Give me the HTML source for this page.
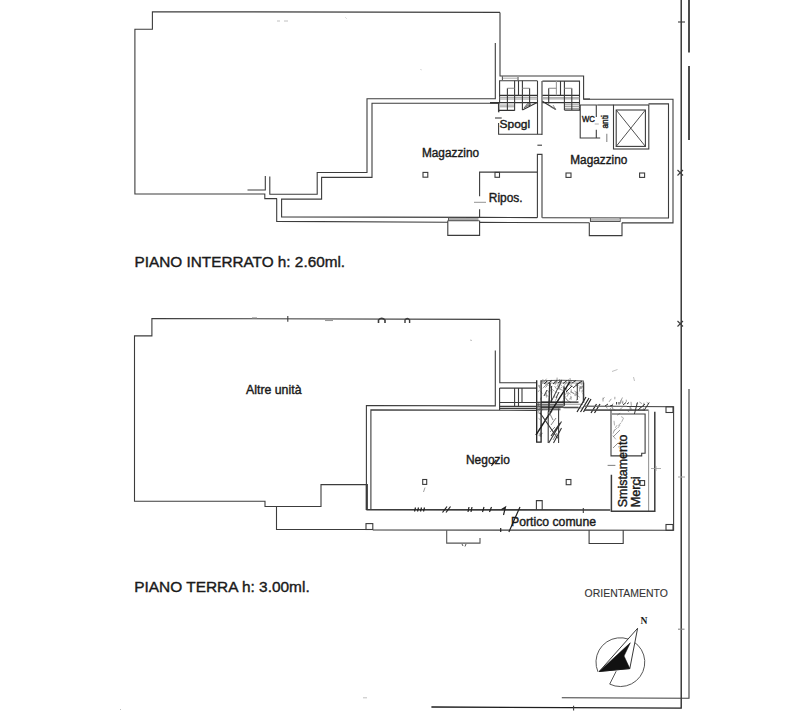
<!DOCTYPE html>
<html><head><meta charset="utf-8"><title>Planimetria</title>
<style>
html,body{margin:0;padding:0;background:#fff;width:810px;height:720px;overflow:hidden}
svg{display:block;position:absolute;left:0;top:0}
text{font-family:"Liberation Sans",sans-serif;fill:#1a1a1a}
</style></head><body>
<svg width="810" height="720" viewBox="0 0 810 720">
<g fill="none" stroke="#3c3c3c" stroke-width="1.1" stroke-linejoin="miter" stroke-linecap="butt">
<!-- ===== UPPER PLAN (PIANO INTERRATO) ===== -->
<!-- big left rect -->
<path d="M500,12.4 L152.4,11.7 L152.4,29.2 L134.9,29.2 L134.9,194 L264.8,194 L264.8,198.6 L277,198.6"/>
<path d="M247.5,190 L265.3,190 L265.3,176"/>
<!-- line C outer -->
<path d="M269.8,176.4 L269.8,194.2 L317.2,194.2 L317.2,172.5 L367,172.5 L367,98.8 L495.3,98.8 L495.3,43"/>
<!-- line D inner -->
<path d="M499,103.3 L372,103.3 L372,177.4 L321.6,177.4 L321.6,199.1 L281.6,199.1 L281.6,216.9 L479.6,217.4 L537.2,217.6"/>
<path d="M542.2,217.8 L668.5,218 L668.5,103.9 L648.5,103.9"/>
<!-- line E outer bottom -->
<path d="M276.7,198.6 L276.7,221.4 L447.8,222.2"/>
<path d="M479.6,222.4 L589.3,222.8"/>
<path d="M622,222.9 L673,222.9 L673,99.3 L583.6,99.3 L583.6,76 L500,76 L500,12.5"/>
<path d="M583.8,99 L590,99"/>
<!-- windows -->
<path d="M447.8,220.6 L447.8,235.4 L479.6,235.4 L479.6,220.6"/>
<path d="M448.6,217.4 L448.6,220.6 L478.8,220.6" stroke="#555"/>
<rect x="449" y="218" width="29.5" height="2.2" fill="#aaa" stroke="none"/>
<path d="M589.3,222.8 L589.3,235.6 L622,235.6 L622,222.8"/>
<path d="M590.5,218 L590.5,221.4 L620.1,221.4 L620.1,218" stroke="#555"/>
<rect x="591" y="218.6" width="28.8" height="2.2" fill="#bbb" stroke="none"/>
<!-- Ripos -->
<path d="M479.6,196.3 L479.6,172.1 L537,172.1"/>
<path d="M479.6,209.3 L479.6,217.9"/>
<rect x="495" y="172.4" width="4.5" height="4.9"/>
<path d="M474,202.3 L486,202.3" stroke="#777" stroke-width="0.8"/>
<!-- middle wall -->
<path d="M537.4,217.8 L537.4,154.4 L542,154.4 L542,217.8"/>
<path d="M537.4,145.2 L542,145.2"/>
<path d="M537.5,81 L537.5,134.2"/>
<path d="M542,81 L542,135"/>
<!-- Spogl box -->
<path d="M498.6,123 L498.6,134.2 L542,134.2"/>
<path d="M495,118 L501.7,118"/>
<!-- stairs outer -->
<path d="M499.6,102.6 L499.6,80.7 L537.5,80.7"/>
<path d="M498.7,102.6 L498.7,112.3" stroke-width="1.5"/>
<path d="M542.4,81.1 L579.5,81.1 L579.5,110.7"/>
<path d="M490,103 L499.3,103"/>
<path d="M502.4,76.2 L502.4,80.1 M518,77 L518,80.1" stroke="#555"/>
<path d="M503,78.2 L517.5,78.2" stroke="#999" stroke-width="0.8"/>
<!-- left stair internals -->
<path d="M499.6,95.4 L537.4,95.4 M490,102.6 L537.4,102.6 M498.5,110.4 L514.6,110.4" stroke="#333" stroke-width="1.2"/>
<path d="M499.6,97.3 L537.4,97.3 M499.6,99 L537.4,99 M499.6,105.1 L514.6,105.1 M499.6,106.8 L514.6,106.8" stroke="#9a9a9a" stroke-width="1"/>
<path d="M507.4,88.2 L507.4,110.7 M514.6,80.7 L514.6,110.7 M518.5,80.7 L518.5,95.4 M522.4,80.7 L522.4,110.1 M529.6,88.2 L529.6,106.2" stroke="#3a3a3a"/>
<path d="M507.4,88.2 L514.6,88.2 M522.4,88.2 L529.6,88.2" stroke="#888"/>
<path d="M522.4,110.1 L537.1,102.6" stroke="#333"/>
<path d="M524,108 L531,104 L527.5,103.5 Z" fill="#aaa" stroke="#555" stroke-width="0.7"/>
<!-- right stair internals -->
<path d="M542.4,95.3 L579.5,95.3 M542.4,102.7 L579.5,102.7 M564.4,110.1 L579.5,110.1" stroke="#333" stroke-width="1.2"/>
<path d="M542.4,97.7 L579.5,97.7 M542.4,98.9 L579.5,98.9 M564.4,104.8 L579.5,104.8 M564.4,106.6 L579.5,106.6 M564.4,108.4 L579.5,108.4" stroke="#9a9a9a" stroke-width="1"/>
<path d="M548.7,88.2 L548.7,103.6 M560.5,81.1 L560.5,95.3 M564.4,81.1 L564.4,110.1 M571.8,88.2 L571.8,110.1" stroke="#3a3a3a"/>
<path d="M556.4,81.1 L556.4,95.3" stroke="#999"/>
<path d="M548.7,88.2 L556.4,88.2 M564.4,88.2 L571.8,88.2" stroke="#888"/>
<path d="M542.4,101.3 L555.8,109.6" stroke="#333" stroke-width="1.2"/>
<path d="M550,106.5 L555.8,109.6 L553,105" stroke="#777" stroke-width="0.8"/>
<!-- WC -->
<path d="M596.3,117 L596.3,105 L580.2,105 L580.2,138 L600.2,138"/>
<path d="M596.3,129.8 L596.3,138"/>
<path d="M597.2,105 L613.5,105"/>
<path d="M606.8,133.7 L606.8,142" stroke="#888"/>
<path d="M594.7,124 L598.8,124" stroke="#999" stroke-width="0.8"/>
<!-- elevator -->
<rect x="613.5" y="105" width="35.3" height="44"/>
<rect x="616.2" y="110" width="29.2" height="36.4"/>
<path d="M616.2,110 L645.4,146.4 M645.4,110 L616.2,146.4" stroke-width="0.9"/>
<!-- pillars squares -->
<rect x="423" y="172.4" width="4.8" height="4.8"/>
<rect x="566" y="173" width="5" height="4.4"/>
<rect x="639.6" y="173" width="5" height="4.4"/>

<!-- faint marks -->
<path d="M277,21 L280,21 M284,21 L288,21 M345.5,17.5 L346.5,18.5 M420.5,69.5 L421.5,69.8 M470,340 L472,340.5 M612,371.5 L617.5,369.5 M633.5,377 L634.5,381 M120,709 L121,710 M363,697.8 L367,697.8" stroke="#b0b0b0" stroke-width="0.8"/>
<!-- ===== RIGHT FRAME ===== -->
<path d="M681.2,0 L681.2,708.2 L431.4,707" stroke="#1e1e1e" stroke-width="1.3"/>
<path d="M689,0 L689,52.5 M689,66 L689,140" stroke="#222" stroke-width="1.6"/>
<path d="M689,389 L689,698.2 L561.8,697.8"/>
<path d="M678,22 L685,22"/>
<path d="M677.5,170 L683,175.5 M677.5,175.5 L683,170"/>
<path d="M677.5,321 L683,326.5 M677.5,326.5 L683,321"/>
<path d="M573.6,705.7 L573.6,710.6"/>
<path d="M678,629.2 L684.5,629.2" stroke="#888"/>

<!-- ===== LOWER PLAN (PIANO TERRA) ===== -->
<path d="M499.8,319.4 L151.9,318.5 L151.9,335.9 L134.5,335.9 L134.5,501.2 L265,501.2 L265,506.5 L321,506.5 L321,484.6 L366.3,484.6"/>
<path d="M499.8,319.4 L499.8,382.8 L536.3,382.8"/>
<path d="M495.3,350.6 L495.3,405.9 L366.4,405.5 L366.4,510"/>
<path d="M366.4,484 L366.4,510"/>
<path d="M370.9,510 L370.9,409.9 L536,410.4"/>
<path d="M366.4,509.8 L610.3,510" stroke-width="1.6"/>
<path d="M276.5,506 L276.5,529.5 L366,529.5"/>
<path d="M372.8,530 L673.6,530.3 L673.6,406.8 L584,406.2"/>
<rect x="366" y="523.6" width="6.8" height="5.9"/>
<!-- top marks -->
<path d="M287.8,316 L287.8,321.7"/>
<path d="M378.5,323 L378.5,320 Q381.7,316.5 385,320 L385,323" stroke-width="1.6"/>
<path d="M405,323 L405,320 Q407.3,317 409.6,320 L409.6,323" stroke-width="1.4"/>
<path d="M252,318 L257,318" stroke="#888"/>
<path d="M325,320.5 L333,320.5" stroke="#999"/>
<!-- upper stair box lower plan -->
<path d="M499.6,388.1 L536.3,388.1 M499.6,388.1 L499.6,410"/>
<path d="M514.6,388.1 L514.6,406.4 M518.5,388.1 L518.5,406.4 M522,388.1 L522,402.5" />
<path d="M499.6,402.5 L536.3,402.5 M499.6,406.4 L536.3,406.4 M499.6,408.4 L536.3,408.4"/>
<!-- hatched stair column -->
<path d="M555.3,384.9l-0.6,-3.7M579.3,386.1l2.8,1.6M575.9,384.4l2.0,3.2M544.0,386.2l1.9,1.4M554.6,397.5l0.1,-2.3M571.2,392.7l-0.0,-3.4M579.9,388.9l1.9,-3.2M563.5,398.6l2.7,-2.3M548.8,388.5l3.6,-2.3M565.5,398.6l3.2,3.0M544.8,383.8l3.8,1.6M568.5,400.9l2.5,1.8M580.6,388.8l-0.0,-2.4M552.2,389.4l2.2,1.7M547.6,390.2l2.4,4.0M581.3,384.9l-0.4,-4.5M549.5,387.4l0.1,-4.9M570.3,391.8l4.1,1.7M558.1,389.6l2.0,-4.5M560.1,384.1l1.7,1.6M556.9,382.5l0.2,-4.9M566.7,391.0l-0.0,-3.5M545.5,383.9l2.0,-3.0M550.4,400.1l1.6,2.4M568.4,383.7l0.0,-4.3M563.8,396.8l2.4,-3.7M575.6,396.1l2.4,-4.3M574.4,391.0l4.1,2.8M581.2,388.9l1.7,-3.0M582.4,393.6l1.9,1.3M569.1,399.3l2.6,-2.1M568.1,383.6l3.8,3.0M571.7,385.2l1.4,2.0M575.9,400.6l1.5,-1.4M574.8,395.8l1.8,-4.1M550.7,386.8l-0.3,-3.6M576.2,383.2l2.2,2.4M579.6,391.5l0.0,-4.3M567.0,396.7l1.6,-3.3M555.4,391.8l2.0,0.9M549.8,382.8l1.3,-3.0M567.1,391.6l3.5,2.7M562.8,386.7l2.5,3.9M550.3,390.5l2.3,1.5M545.0,394.7l3.5,1.7M557.0,386.8l1.4,-2.9M562.0,400.8l2.6,1.9M559.3,388.8l-0.2,-3.3M542.7,388.3l3.5,-3.5M546.3,387.0l1.6,-4.1M576.8,394.8l2.8,2.5M570.7,383.7l1.1,-2.6M542.7,383.7l0.2,-4.6M560.6,388.4l1.4,-1.6M571.1,399.8l-0.3,-3.9M563.8,385.9l3.1,-3.9M543.5,382.4l3.1,-3.7M546.4,397.6l-0.0,-4.9M554.6,386.1l2.2,3.2M558.6,388.6l4.3,1.8M559.7,383.1l-0.2,-3.8M570.4,382.9l-0.4,-4.9M581.9,392.4l0.4,-2.5M555.7,383.6l1.2,-1.9M575.5,384.7l2.3,1.4M566.0,392.1l2.1,2.4M555.4,400.7l2.0,-4.0M571.3,391.7l3.3,2.7M565.3,397.4l2.5,3.2M570.4,386.4l1.1,-2.9" stroke="#8a8a8a" stroke-width="0.8"/>
<path d="M538.8,386.8l0.0,-2.0M540.2,425.9l2.2,-2.7M538.9,429.3l2.8,-2.1M540.9,411.7l1.9,-2.6M539.6,388.3l-0.3,-3.2M537.5,411.0l2.1,-2.6M538.2,412.9l2.2,1.0M540.9,436.4l-0.1,-4.0M538.5,435.3l2.8,1.2M540.8,391.4l1.5,2.2M539.0,433.1l1.5,2.5M538.2,391.9l1.5,-2.2M538.4,406.3l2.4,0.9M538.5,406.0l0.1,-3.5M540.4,399.7l0.9,-2.3M538.1,412.6l1.7,-3.2M539.5,435.2l3.3,-2.1M538.6,418.4l1.7,1.4" stroke="#8a8a8a" stroke-width="0.8"/>
<path d="M622.7,403.5l0.2,-2.8M611.5,405.3l1.8,-1.7M643.5,405.5l0.4,-2.8M626.3,402.2l0.0,-2.5M627.3,410.5l1.9,1.4M613.0,408.8l2.5,1.7M630.2,410.2l-0.3,-3.3M620.7,403.1l0.6,-3.4M643.0,405.2l3.0,2.2M646.7,402.2l1.7,1.5M639.6,408.1l1.6,-1.2M606.0,406.4l1.3,2.1M630.5,408.1l1.8,1.6M612.5,409.3l0.1,-3.9M630.9,410.5l-0.3,-3.4M614.8,399.3l0.1,-2.5M620.4,403.8l0.2,-3.4M609.5,409.4l2.0,-1.7M639.4,402.0l2.5,1.6M609.0,401.9l2.3,-3.1M602.6,399.3l1.9,-2.0M643.1,410.5l0.4,-2.3M631.3,405.8l-0.3,-4.0M621.2,400.4l1.2,-2.9M636.4,403.9l1.6,-1.3M622.7,403.8l-0.2,-2.0M619.7,409.6l2.8,-2.3M603.0,401.5l0.1,-3.9" stroke="#8a8a8a" stroke-width="0.8"/>
<path d="M618.2,425.5l3.1,-2.8M618.0,447.2l2.9,-1.8M621.6,453.2l-0.2,-2.4M617.0,415.3l3.2,-2.1M615.3,427.8l1.8,-2.6M613.6,431.3l3.6,-3.4M620.8,454.5l-0.7,-4.9M621.7,421.9l1.8,-3.8M620.5,441.6l2.4,1.5M614.5,425.4l-0.5,-4.6M617.8,428.1l2.3,-3.2M613.0,433.6l1.7,-4.2M621.1,416.6l2.3,1.2M612.8,435.5l3.0,3.8" stroke="#9a9a9a" stroke-width="0.8"/>
<path d="M536.7,380.2 L536.7,442.2 L541.1,442.2 L541.1,380.2" stroke="#222" stroke-width="1.3"/>
<path d="M548.2,411.5 L548.2,443 M558.6,408.6 L558.6,443"/>
<path d="M541.1,381 Q560,379.5 583.3,381 L583.3,402.4" stroke="#555"/>
<path d="M541.1,383 L583,383" stroke="#888" stroke-width="0.8"/>
<path d="M550,383 L549,412 M551.5,386 L551.5,402 M564,386 L564,406 M577.3,383 L577.3,400" stroke="#444"/>
<path d="M536.4,402.4 L563.5,402.4 M536.4,404.3 L563.5,404.3 M536.4,406.1 L563.5,406.1 M536.4,408 L560.5,408 M536.4,409.8 L560.5,409.8" stroke="#444"/>
<path d="M563.5,404.3 L583,404.3 M563.5,408 L583,408" stroke="#999"/>
<path d="M535.9,435.2 L570,381.7" stroke="#1a1a1a" stroke-width="1.4"/>
<path d="M549.7,382.9 L548.5,412 M539.8,412.5 L557.6,438.2" stroke="#333" stroke-width="1.1"/>
<path d="M548.7,443 L561.5,421.5 M553.5,443 L561.5,428 M551,436 L560,423 M545,420 L552,411" stroke="#333"/>
<path d="M577,412 L586,397 M580.5,412 L589,398 M583.5,412 L591,399 M591,413 L596.5,404 M594.5,413 L600,404" stroke="#222" stroke-width="1.2"/>
<path d="M584,406.2 L627,406.2 M585,410 L645,410" stroke="#777"/>
<path d="M634.4,414 L637.4,402.5 M644,410.5 L649.2,402.5 M638,410 L645,404 M616.6,404.5 L616.6,402 M619,404.5 L619,402 M623,405 L626,402.5 M627,404 L629,402.5 M605,406 L608,404 M610,406 L613,405" stroke="#333" stroke-width="1"/>
<path d="M544,384 L547,381 M548,383.5 L552,380.5 M553,384 L557,380.5 M558,383 L562,380 M563,383.5 L567,380.5 M572,383 L576,380.5 M578,384 L582,381 M551,402 L561.5,381 M573,388 L580,382 M566,392 L572,386 M544,396 L547,390 M556,398 L559,392" stroke="#333" stroke-width="1"/>
<path d="M564.4,387.6 L564.4,405.4 M583.7,382.5 L583.7,402.4" stroke="#333" stroke-width="1.1"/>
<path d="M541.1,402.1 L578.5,402.1 M541.1,407.3 L578.5,407.3" stroke="#222" stroke-width="1.1"/>
<path d="M549.5,413 L553,420 M551,425 L556,418 M550,432 L555,427 M553,440 L557,433" stroke="#777" stroke-width="0.9"/>
<!-- Smistamento room -->
<path d="M584,410.1 L648.6,410.1"/>
<path d="M611,410.1 L611,455.9 L641.7,455.9 L641.7,453.3 L645.1,453.3 L645.1,414 L612,414"/>
<path d="M648.6,410.1 L648.6,511" stroke="#999"/>
<path d="M654.8,411.7 L654.8,511.3 L611.4,511.3 L611.4,474.7" stroke-width="1.5"/>
<path d="M613,437 L620,430 M613,448 L618,443" stroke="#777" stroke-width="0.8"/>
<rect x="666" y="406.8" width="7" height="5.7"/>
<rect x="666" y="524.5" width="7" height="5.8"/>
<rect x="640" y="480.6" width="4.6" height="4.8"/>
<path d="M607.6,465.4 L615.4,465.4" stroke="#888"/>
<path d="M651,468.5 L661,468.5 M656,466 L656,471" stroke="#999" stroke-width="0.8"/>
<path d="M678,477 L685,477" stroke="#aaa"/>
<!-- pillar & ticks -->
<path d="M536.4,510 L536.4,500.6 L542.2,500.6 L542.2,510"/>
<path d="M583.3,508 L583.3,513"/>
<rect x="422.7" y="479.5" width="4" height="4.9"/>
<path d="M491.4,465.9 L496.3,459.8" stroke="#222" stroke-width="1.1"/>
<path d="M425,487.5 L423.5,492" stroke="#888" stroke-width="0.8"/>
<rect x="566.2" y="479.5" width="4.7" height="5.2"/>
<!-- hatch marks along Negozio bottom -->
<path d="M414.5,511.5 L415.5,507.5 M417.5,511.5 L418.5,507.5 M420.5,511.5 L421.5,507.5 M423.5,511.5 L424.5,507.5 M442.5,512.5 L447,506.5 M446,512.5 L450.5,506.5 M468,512 L469,507 M471,512 L472,507 M482.5,512 L484,507 M489.5,512 L491.5,507 M503.5,515 L505.5,507 L501.5,509.5 M520,506.9 L508.9,532 M500.7,528 L500.7,532" stroke="#222" stroke-width="1.2"/>
<path d="M446.7,530.2 L446.7,543.1 L480,543.1 L480,538" stroke="#555"/>
<path d="M462,544 L463,546 M466,544 L465,546.5" stroke="#444" stroke-width="0.9"/>
<!-- bracket windows -->
<path d="M589.1,530.3 L589.1,543.5 L623.2,543.5 L623.2,530.3"/>
<path d="M366.9,484 L366.9,510" stroke-width="2"/>

<!-- ===== COMPASS ===== -->
<path d="M598.0,671.9 A24.4,24.4 0 1 1 609.7,684.1 L616.2,671.2" stroke="#444" stroke-width="0.9"/>
<path d="M637.6,628.3 L599.2,671.5 L629.8,668.6 Z" fill="#fff" stroke="#222" stroke-width="0.9"/>
<path d="M599.2,671.5 L630.3,642.8 L624,656 L629.8,668.6 Z" fill="#111" stroke="#111" stroke-width="0.6"/>
</g>

<!-- ===== TEXT ===== -->
<g stroke="#1a1a1a" stroke-width="0.4">
<text x="422" y="157" font-size="12" textLength="57" lengthAdjust="spacingAndGlyphs">Magazzino</text>
<text x="570.3" y="163.8" font-size="12" textLength="57" lengthAdjust="spacingAndGlyphs">Magazzino</text>
<text x="499.5" y="128.2" font-size="11.5" textLength="30.6" lengthAdjust="spacingAndGlyphs">Spogl</text>
<text x="488.8" y="202.2" font-size="12.2" textLength="33.8" lengthAdjust="spacingAndGlyphs">Ripos.</text>
<text x="582" y="121.9" font-size="8.3" textLength="13" lengthAdjust="spacingAndGlyphs">WC</text>
<text transform="translate(607.6,128.6) rotate(-90)" font-size="8.3" textLength="13.4" lengthAdjust="spacingAndGlyphs">anti</text>
<text x="134.6" y="267" font-size="15.5" textLength="210.5" lengthAdjust="spacingAndGlyphs">PIANO INTERRATO h: 2.60ml.</text>
<text x="246" y="394" font-size="12.3" textLength="55.5" lengthAdjust="spacingAndGlyphs">Altre unità</text>
<text x="466" y="463.6" font-size="12.2" textLength="43.8" lengthAdjust="spacingAndGlyphs">Negozio</text>
<text transform="translate(627.4,507.2) rotate(-90)" font-size="12" textLength="72.5" lengthAdjust="spacingAndGlyphs">Smistamento</text>
<text transform="translate(639.5,507.2) rotate(-90)" font-size="12" textLength="30.8" lengthAdjust="spacingAndGlyphs">Merci</text>
<text x="511" y="525.8" font-size="12" textLength="85" lengthAdjust="spacingAndGlyphs">Portico comune</text>
<text x="134.2" y="592.3" font-size="15.5" textLength="175.5" lengthAdjust="spacingAndGlyphs">PIANO TERRA h: 3.00ml.</text>
<text x="584.6" y="596.7" font-size="10.7" textLength="83.2" lengthAdjust="spacingAndGlyphs" stroke-width="0.1" style="fill:#333" stroke="#333">ORIENTAMENTO</text>
</g>
<text x="640.6" y="623.6" font-size="9.6" font-weight="bold" style="font-family:'Liberation Serif',serif">N</text>
</svg>
</body></html>
